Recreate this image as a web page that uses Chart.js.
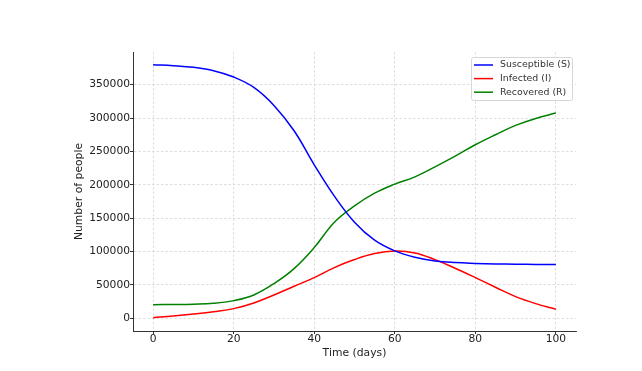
<!DOCTYPE html>
<html>
<head>
<meta charset="utf-8">
<script src="https://cdn.jsdelivr.net/npm/chart.js@4/dist/chart.umd.min.js"></script>
<style>
  body { margin: 0; background: #fff; }
  canvas { display: block; }
</style>
</head>
<body>
<canvas id="sirChart" width="642" height="371"></canvas>
<script>
// days sampled every 5
const days = [0, 5, 10, 15, 20, 25, 30, 35, 40, 45, 50, 55, 60, 65, 70, 75, 80, 85, 90, 95, 100];

const susceptible = [380000, 378500, 376000, 371000, 361500, 346000, 319000, 281000, 230000, 183000, 144000, 117000, 101000, 91500, 86000, 83500, 82300, 81500, 81000, 80800, 80800];
const infected = [1000, 3500, 6500, 10000, 14500, 23000, 35000, 48000, 61000, 76000, 88000, 97000, 100800, 98000, 88000, 75000, 61000, 46500, 32500, 22000, 13500];
const recovered = [20500, 20700, 21200, 22500, 26500, 35000, 52000, 74500, 106000, 144000, 168500, 187500, 201000, 212000, 227000, 243000, 260000, 275000, 289000, 299500, 307500];

const xTicks = [0, 20, 40, 60, 80, 100];
const yTicks = [0, 50000, 100000, 150000, 200000, 250000, 300000, 350000];

const seriesLabels = ["Susceptible (S)", "Infected (I)", "Recovered (R)"];
const seriesColors = ["#0000ff", "#ff0000", "#008000"];

const font = "'DejaVu Sans', sans-serif";

function toPoints(values) {
  return days.map((d, i) => ({ x: d, y: values[i] }));
}

// matplotlib-style legend box inside the plot, top right
const boxLegend = {
  id: "boxLegend",
  afterDraw(chart) {
    const ctx = chart.ctx;
    const area = chart.chartArea;
    const w = 101, h = 43;
    const x = area.right - 4 - w;
    const y = area.top + 5;
    ctx.save();
    ctx.fillStyle = "rgba(255,255,255,0.85)";
    ctx.strokeStyle = "#d6d6d6";
    ctx.lineWidth = 1;
    ctx.beginPath();
    ctx.roundRect(x + 0.5, y + 0.5, w, h, 2);
    ctx.fill();
    ctx.stroke();
    ctx.font = "9.4px " + font;
    ctx.textBaseline = "middle";
    chart.data.datasets.forEach((ds, i) => {
      const rowY = y + 8 + i * 13.6;
      ctx.strokeStyle = ds.borderColor;
      ctx.lineWidth = 1.5;
      ctx.beginPath();
      ctx.moveTo(x + 3, rowY);
      ctx.lineTo(x + 22, rowY);
      ctx.stroke();
      ctx.fillStyle = "#333";
      ctx.fillText(ds.label, x + 29, rowY);
    });
    ctx.restore();
  }
};

new Chart(document.getElementById("sirChart"), {
  type: "line",
  data: {
    datasets: [
      { label: seriesLabels[0], data: toPoints(susceptible), borderColor: seriesColors[0] },
      { label: seriesLabels[1], data: toPoints(infected), borderColor: seriesColors[1] },
      { label: seriesLabels[2], data: toPoints(recovered), borderColor: seriesColors[2] }
    ]
  },
  options: {
    responsive: false,
    animation: false,
    layout: { padding: { left: 68, right: 66, top: 52, bottom: 0 } },
    elements: {
      point: { radius: 0 },
      line: { borderWidth: 1.5, tension: 0.4, fill: false }
    },
    plugins: {
      legend: { display: false },
      tooltip: { enabled: false }
    },
    scales: {
      x: {
        type: "linear",
        min: -5,
        max: 105,
        afterBuildTicks: (scale) => { scale.ticks = xTicks.map(v => ({ value: v })); },
        afterFit: (scale) => { scale.height = 40; },
        grid: { color: "#d4d4d4", lineWidth: 0.8, tickLength: 3, tickColor: "#333", tickWidth: 1 },
        border: { display: true, color: "#333", width: 1, dash: [2.5, 2] },
        ticks: { color: "#222", font: { family: font, size: 10.7 }, padding: -1, maxRotation: 0 },
        title: { display: true, text: "Time (days)", color: "#222", font: { family: font, size: 10.8 }, padding: { top: 0, bottom: 11 } }
      },
      y: {
        type: "linear",
        min: -19000,
        max: 399000,
        afterBuildTicks: (scale) => { scale.ticks = yTicks.map(v => ({ value: v })); },
        afterFit: (scale) => { scale.width = 65; },
        grid: { color: "#d4d4d4", lineWidth: 0.8, tickLength: 3, tickColor: "#333", tickWidth: 1 },
        border: { display: true, color: "#333", width: 1, dash: [2.5, 2] },
        ticks: { color: "#222", font: { family: font, size: 10.7 }, padding: 0, callback: (v) => String(v) },
        title: { display: true, text: "Number of people", color: "#222", font: { family: font, size: 10.8 }, padding: { top: 5, bottom: 0 } }
      }
    }
  },
  plugins: [boxLegend]
});
</script>
</body>
</html>
